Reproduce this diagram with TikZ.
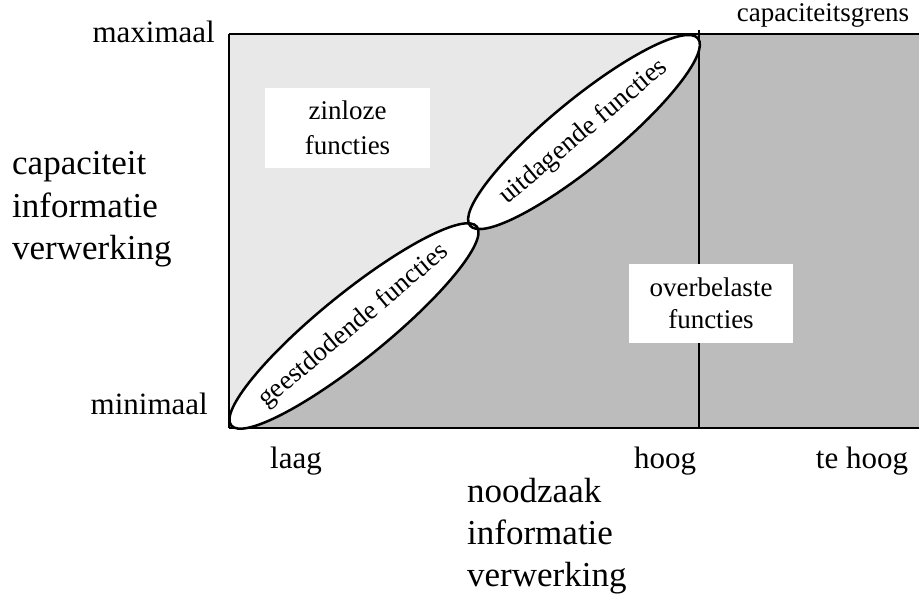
\documentclass[tikz,border=0pt]{standalone}
\usepackage{fontspec}
\setmainfont{Liberation Serif}
\definecolor{lightfill}{RGB}{232,232,232}
\definecolor{darkfill}{RGB}{188,188,188}
\begin{document}
\begin{tikzpicture}[x=1pt,y=1pt,
  axislbl/.style={font=\fontsize{31}{37}\selectfont, inner sep=0pt},
  titlelbl/.style={font=\fontsize{35}{42}\selectfont, inner sep=0pt, anchor=base west},
  zonebox/.style={fill=white, minimum width=165pt, minimum height=80pt, align=center,
                  inner sep=0pt, font=\fontsize{27}{35}\selectfont},
  bubble/.style={draw=black, line width=2.5pt},
  bubbletext/.style={font=\fontsize{27}{32}\selectfont, inner sep=0pt}]
\useasboundingbox (0,0) rectangle (919,596);

% frame corners
\coordinate (bl) at (229,168);
\coordinate (tl) at (229,562);
\coordinate (tr) at (919,562);
\coordinate (br) at (919,168);
\coordinate (limtop) at (699,566);
\coordinate (limbot) at (699,168);
\coordinate (limcorner) at (699,562);

% shaded zones: dark overall, light triangle above the diagonal
\fill[darkfill] (bl) rectangle (tr);
\fill[lightfill] (bl) -- (tl) -- (limcorner) -- cycle;

% axes and capacity limit
\draw[line width=1.2pt] (tl) -- (tr);
\draw[line width=1.8pt] (bl) -- (br);
\draw[line width=1.8pt] (bl) -- (tl);
\draw[line width=1.4pt] (limtop) -- (limbot);

% zone labels
\node[zonebox] (zinloos) at (347.5,468) {zinloze\\functies};
\node[zonebox, minimum width=164pt, minimum height=79pt, font=\fontsize{27}{32}\selectfont]
  (overbelast) at (711,292.5) {overbelaste\\functies};

% the two function bubbles along the diagonal
\coordinate (lowc) at (354,270);
\coordinate (upc) at (584,464);
\fill[white, rotate around={39:(lowc)}] (lowc) ellipse [x radius=158, y radius=33];
\fill[white, rotate around={39.4:(upc)}] (upc) ellipse [x radius=147.5, y radius=33];
\draw[bubble, rotate around={39:(lowc)}] (lowc) ellipse [x radius=158, y radius=33];
\draw[bubble, rotate around={39.4:(upc)}] (upc) ellipse [x radius=147.5, y radius=33];
\node[bubbletext, rotate=40] (lowtxt) at (lowc) {geestdodende functies};
\node[bubbletext, rotate=40] (uptxt) at (upc) {uitdagende functies};

% vertical axis
\node[axislbl, anchor=base east] (maxl) at (215,553) {maximaal};
\node[axislbl, anchor=base east] (minl) at (208,181) {minimaal};
\node[titlelbl] (cap1) at (12,421) {capaciteit};
\node[titlelbl] (cap2) at (12,378) {informatie};
\node[titlelbl] (cap3) at (12,336) {verwerking};

% horizontal axis
\node[axislbl, anchor=base] (laag) at (296,127) {laag};
\node[axislbl, anchor=base] (hoog) at (665,127) {hoog};
\node[axislbl, anchor=base] (tehoog) at (862,127) {te hoog};
\node[titlelbl] (nood1) at (467,93) {noodzaak};
\node[titlelbl] (nood2) at (467,51) {informatie};
\node[titlelbl] (nood3) at (467,9) {verwerking};

% capacity limit label
\node[inner sep=0pt, anchor=base, font=\fontsize{27}{32}\selectfont] (grens) at (823,574) {capaciteitsgrens};
\end{tikzpicture}
\end{document}
